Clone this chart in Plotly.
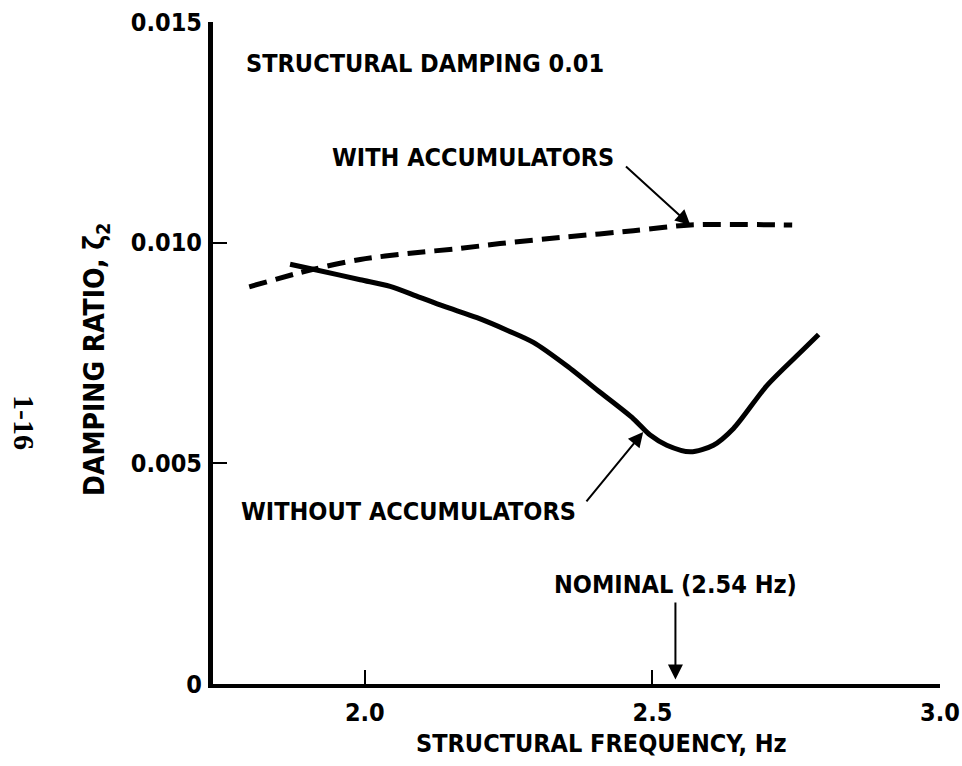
import plotly.graph_objects as go

# ---- data ----
freq_without = [1.870, 1.916, 1.992, 2.044, 2.090, 2.137, 2.195, 2.250, 2.293, 2.351,
                2.409, 2.467, 2.496, 2.525, 2.566, 2.606, 2.641, 2.699, 2.757, 2.789]
damp_without = [0.00951, 0.00938, 0.00916, 0.00901, 0.00879, 0.00856, 0.00830, 0.00800, 0.00774, 0.00721,
                0.00661, 0.00601, 0.00564, 0.00541, 0.00526, 0.00541, 0.00579, 0.00676, 0.00751, 0.00792]

freq_with = [1.799, 1.905, 1.992, 2.079, 2.166, 2.235, 2.351, 2.467, 2.566, 2.743]
damp_with = [0.00900, 0.00938, 0.00962, 0.00976, 0.00987, 0.00998, 0.01013, 0.01027, 0.01040, 0.01040]

x_ticks = [2.0, 2.5, 3.0]
x_tick_labels = ["2.0", "2.5", "3.0"]
y_ticks = [0, 0.005, 0.010, 0.015]
y_tick_labels = ["0", "0.005", "0.010", "0.015"]

nominal_freq = 2.54

FONT = "DejaVu Sans Condensed, Liberation Sans Narrow, DejaVu Sans, sans-serif"
fs = 25

fig = go.Figure()
fig.add_trace(go.Scatter(x=freq_with, y=damp_with, mode="lines",
                         line=dict(color="black", width=5, dash="18px,9px", shape="spline", smoothing=0.8),
                         name="WITH ACCUMULATORS", showlegend=False, hoverinfo="skip"))
fig.add_trace(go.Scatter(x=freq_without, y=damp_without, mode="lines",
                         line=dict(color="black", width=5, shape="spline", smoothing=0.8),
                         name="WITHOUT ACCUMULATORS", showlegend=False, hoverinfo="skip"))

txt = dict(family=FONT, size=fs, color="black", weight="bold")
arrow_style = dict(showarrow=True, arrowhead=2, arrowsize=1.5, arrowwidth=2, arrowcolor="black",
                   axref="x", ayref="y")

annotations = [
    dict(xref="x", yref="y", x=1.790, y=0.01407, text="STRUCTURAL DAMPING 0.01",
         xanchor="left", yanchor="middle", showarrow=False, font=txt),
    # labels with their arrows: (x, y) = arrow tip, (ax, ay) = arrow tail next to the text
    dict(xref="x", yref="y", x=2.566, y=0.01040, ax=2.436, ay=0.01194, text="WITH ACCUMULATORS",
         xanchor="right", yanchor="middle", startstandoff=14, font=txt, **arrow_style),
    dict(xref="x", yref="y", x=2.484, y=0.00571, ax=2.371, ay=0.00391, text="WITHOUT ACCUMULATORS",
         xanchor="right", yanchor="middle", startstandoff=13, font=txt, **arrow_style),
    dict(xref="x", yref="y", x=nominal_freq, y=0.00010, ax=nominal_freq, ay=0.00189,
         text="NOMINAL (2.54 Hz)", xanchor="center", yanchor="bottom", startstandoff=2,
         font=txt, **arrow_style),
    # axis titles and page number
    dict(xref="paper", yref="paper", x=(601 - 213) / 727, y=(684 - 744) / 662,
         text="STRUCTURAL FREQUENCY, Hz", showarrow=False, font=txt,
         xanchor="center", yanchor="middle"),
    dict(xref="paper", yref="paper", x=(96 - 213) / 727, y=(684 - 360) / 662,
         text="DAMPING RATIO, ζ<sub>2</sub>", showarrow=False,
         font=dict(family=FONT, size=28, color="black", weight="bold"),
         textangle=-90, xanchor="center", yanchor="middle"),
    dict(xref="paper", yref="paper", x=(25 - 213) / 727, y=(684 - 423) / 662,
         text="1-16", showarrow=False,
         font=dict(family="Liberation Serif, DejaVu Serif, serif", size=30, color="black", weight="bold"),
         textangle=90, xanchor="center", yanchor="middle"),
]

fig.update_layout(
    width=962, height=766,
    margin=dict(l=213, r=22, t=22, b=82, autoexpand=False),
    paper_bgcolor="white", plot_bgcolor="white",
    annotations=annotations,
    xaxis=dict(range=[1.736, 3.0], tickvals=x_ticks, ticktext=x_tick_labels, automargin=False,
               showline=True, linewidth=4, linecolor="black", mirror=False,
               ticks="inside", ticklen=14, tickwidth=2, tickcolor="black",
               showgrid=False, zeroline=False, tickfont=txt, ticklabelstandoff=3),
    yaxis=dict(range=[0, 0.015], tickvals=y_ticks, ticktext=y_tick_labels, automargin=False,
               showline=True, linewidth=5, linecolor="black", mirror=False,
               ticks="inside", ticklen=14, tickwidth=2, tickcolor="black",
               showgrid=False, zeroline=False, tickfont=txt, ticklabelstandoff=1),
)

fig.write_html("out.html")
